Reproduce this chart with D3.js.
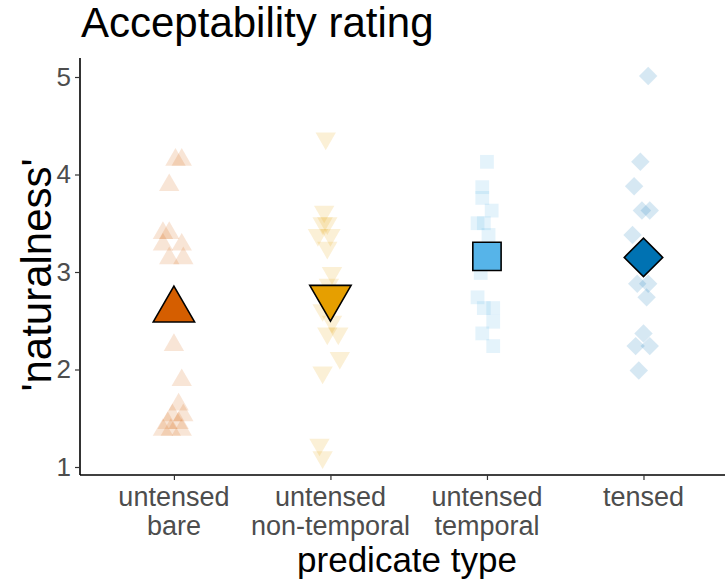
<html>
<head>
<style>
  body { margin: 0; background: #fff; }
  text { font-family: "Liberation Sans", Arial, sans-serif; }
</style>
</head>
<body>
<svg width="725" height="581"></svg>
<script src="https://d3js.org/d3.v7.min.js"></script>
<script>
// categories and colours
var categories = ["untensed bare", "untensed non-temporal", "untensed temporal", "tensed"];
var catLabels = [["untensed", "bare"], ["untensed", "non-temporal"], ["untensed", "temporal"], ["tensed"]];
var colors = ["#D55E00", "#E69F00", "#56B4E9", "#0072B2"];
var yTicks = [1, 2, 3, 4, 5];

// item ratings per category (value, horizontal jitter in category units)
var bareVals = [4.15, 4.15, 3.89, 3.40, 3.40, 3.28, 3.28, 3.14, 3.14, 2.25, 1.89, 1.64, 1.53, 1.53, 1.45, 1.45, 1.38, 1.38, 1.38];
var bareJit  = [0.01, 0.05, -0.03, -0.07, -0.03, -0.07, 0.05, -0.03, 0.06, 0.0, 0.05, 0.03, -0.01, 0.06, -0.04, 0.03, -0.07, -0.02, 0.05];
var nonTempVals = [4.37, 3.62, 3.50, 3.50, 3.38, 3.38, 3.25, 2.99, 2.87, 2.61, 2.49, 2.37, 2.37, 2.12, 1.97, 1.23, 1.10];
var nonTempJit  = [-0.03, -0.04, -0.05, -0.02, -0.08, 0.0, -0.02, 0.01, -0.01, -0.05, 0.01, -0.02, 0.05, 0.06, -0.05, -0.07, -0.05];
var tempVals = [4.13, 3.87, 3.76, 3.63, 3.50, 3.50, 3.38, 2.99, 2.74, 2.63, 2.63, 2.49, 2.37, 2.24];
var tempJit  = [0.0, -0.03, -0.03, 0.03, -0.06, -0.02, 0.01, -0.04, -0.06, -0.02, 0.04, 0.04, -0.03, 0.04];
var tensedVals = [5.01, 4.13, 3.88, 3.63, 3.63, 3.38, 2.88, 2.88, 2.74, 2.37, 2.24, 2.24, 1.99];
var tensedJit  = [0.03, -0.02, -0.06, -0.01, 0.04, -0.07, -0.04, 0.03, 0.02, 0.0, -0.05, 0.04, -0.03];

// category means
var means = [2.61, 2.74, 3.16, 3.15];

var symbols = [d3.symbolTriangle, d3.symbolTriangle, d3.symbolSquare, d3.symbolSquare];
var rotations = [0, 180, 0, 45];

var svg = d3.select("svg");

var x = d3.scaleLinear().domain([0.4, 4.6]).range([80, 737.4]);
var y = d3.scaleLinear().domain([1, 5]).range([467, 77]);

var groups = [
  { vals: bareVals, jit: bareJit },
  { vals: nonTempVals, jit: nonTempJit },
  { vals: tempVals, jit: tempJit },
  { vals: tensedVals, jit: tensedJit }
];

var points = [];
groups.forEach(function(g, i) {
  g.vals.forEach(function(v, j) {
    points.push({ cat: i, v: v, j: g.jit[j] });
  });
});

var smallSize = [180, 180, 190, 170];
var bigSize = [740, 740, 800, 740];

// raw points
svg.append("g").selectAll("path")
  .data(points)
  .enter()
  .append("path")
  .attr("d", function(d) { return d3.symbol().type(symbols[d.cat]).size(smallSize[d.cat])(); })
  .attr("transform", function(d) {
    return "translate(" + x(d.cat + 1 + d.j) + "," + y(d.v) + ") rotate(" + rotations[d.cat] + ")";
  })
  .style("fill", function(d) { return colors[d.cat]; })
  .style("fill-opacity", 0.16)
  .style("stroke", "none");

// means
svg.append("g").selectAll("path")
  .data(means)
  .enter()
  .append("path")
  .attr("d", function(d, i) { return d3.symbol().type(symbols[i]).size(bigSize[i])(); })
  .attr("transform", function(d, i) {
    return "translate(" + x(i + 1) + "," + y(d) + ") rotate(" + rotations[i] + ")";
  })
  .style("fill", function(d, i) { return colors[i]; })
  .style("stroke", "#000")
  .style("stroke-width", 1.6)
  .style("stroke-linejoin", "miter");

// y axis
var yAxis = svg.append("g")
  .attr("transform", "translate(80,0)")
  .call(d3.axisLeft(y).tickValues(yTicks).tickSize(5).tickPadding(4).tickFormat(d3.format("d")));
yAxis.select(".domain").attr("d", "M0,58V475").style("stroke", "#000").style("stroke-width", 1.6);
yAxis.selectAll(".tick line").style("stroke", "#333").style("stroke-width", 1.2);
yAxis.selectAll(".tick text").style("font-size", "26px").style("fill", "#4d4d4d")
  .style("font-family", "'Liberation Sans', Arial, sans-serif");

// x axis
var xAxis = svg.append("g")
  .attr("transform", "translate(0,475)")
  .call(d3.axisBottom(x).tickValues([1, 2, 3, 4]).tickSize(5).tickFormat(""));
xAxis.select(".domain").attr("d", "M80,0H725").style("stroke", "#000").style("stroke-width", 1.6);
xAxis.selectAll(".tick line").style("stroke", "#333").style("stroke-width", 1.2);

var lbl = svg.append("g").selectAll("text")
  .data(catLabels)
  .enter()
  .append("text")
  .attr("x", function(d, i) { return x(i + 1); })
  .attr("y", 506)
  .attr("text-anchor", "middle")
  .style("font-size", "27px")
  .style("fill", "#4d4d4d");
lbl.selectAll("tspan")
  .data(function(d) { return d; })
  .enter()
  .append("tspan")
  .attr("x", function() { return d3.select(this.parentNode).attr("x"); })
  .attr("dy", function(d, k) { return k === 0 ? 0 : 29; })
  .text(function(d) { return d; });

// titles
svg.append("text")
  .attr("x", 81)
  .attr("y", 37)
  .style("font-size", "42px")
  .style("fill", "#000")
  .text("Acceptability rating");

svg.append("text")
  .attr("x", 407)
  .attr("y", 572)
  .attr("text-anchor", "middle")
  .style("font-size", "35px")
  .style("fill", "#000")
  .text("predicate type");

svg.append("text")
  .attr("transform", "translate(51,275) rotate(-90)")
  .attr("text-anchor", "middle")
  .style("font-size", "42px")
  .style("fill", "#000")
  .text("'naturalness'");
</script>
</body>
</html>
